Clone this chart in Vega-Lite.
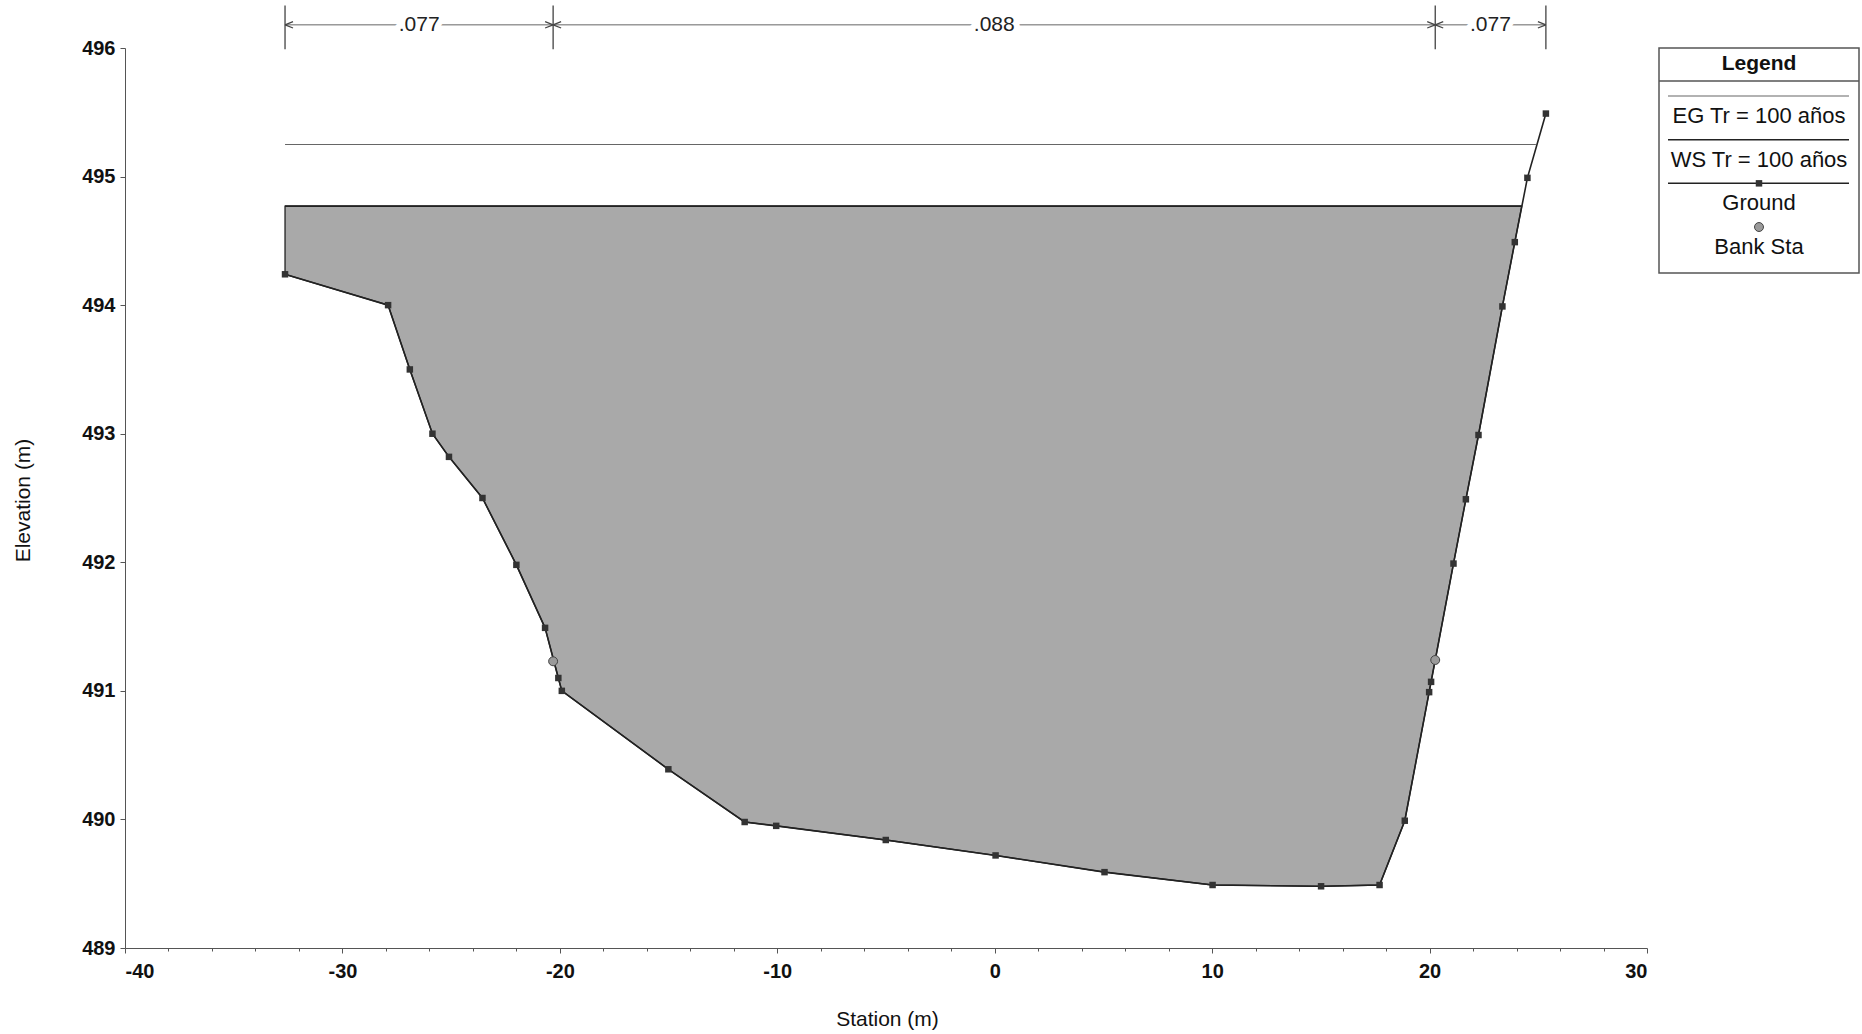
{
  "$schema": "https://vega.github.io/schema/vega-lite/v6.json",
  "background": "white",
  "padding": {"left": 12, "top": 4, "right": 5, "bottom": 5},
  "bounds": "flush",
  "spacing": 12,
  "config": {"view": {"stroke": null}, "font": "Liberation Sans", "axis": {"labelOverlap": false}},
  "datasets": {
    "ground": [
      {"station": -32.64, "elev": 494.24}, {"station": -27.9, "elev": 494.0}, {"station": -26.9, "elev": 493.5},
      {"station": -25.86, "elev": 493.0}, {"station": -25.1, "elev": 492.82}, {"station": -23.56, "elev": 492.5},
      {"station": -22.0, "elev": 491.98}, {"station": -20.68, "elev": 491.49}, {"station": -20.07, "elev": 491.1},
      {"station": -19.91, "elev": 491.0}, {"station": -15.01, "elev": 490.39}, {"station": -11.5, "elev": 489.98},
      {"station": -10.05, "elev": 489.95}, {"station": -5.01, "elev": 489.84}, {"station": 0.04, "elev": 489.72},
      {"station": 5.05, "elev": 489.59}, {"station": 10.02, "elev": 489.49}, {"station": 15.01, "elev": 489.48},
      {"station": 17.7, "elev": 489.49}, {"station": 18.86, "elev": 489.99}, {"station": 19.98, "elev": 490.99},
      {"station": 20.07, "elev": 491.07}, {"station": 21.1, "elev": 491.99}, {"station": 21.67, "elev": 492.49},
      {"station": 22.25, "elev": 492.99}, {"station": 23.35, "elev": 493.99}, {"station": 23.92, "elev": 494.49},
      {"station": 24.5, "elev": 494.99}, {"station": 25.35, "elev": 495.49}
    ],
    "water": [
      {"station": -32.64, "elev": 494.24}, {"station": -27.9, "elev": 494.0}, {"station": -26.9, "elev": 493.5},
      {"station": -25.86, "elev": 493.0}, {"station": -25.1, "elev": 492.82}, {"station": -23.56, "elev": 492.5},
      {"station": -22.0, "elev": 491.98}, {"station": -20.68, "elev": 491.49}, {"station": -20.07, "elev": 491.1},
      {"station": -19.91, "elev": 491.0}, {"station": -15.01, "elev": 490.39}, {"station": -11.5, "elev": 489.98},
      {"station": -10.05, "elev": 489.95}, {"station": -5.01, "elev": 489.84}, {"station": 0.04, "elev": 489.72},
      {"station": 5.05, "elev": 489.59}, {"station": 10.02, "elev": 489.49}, {"station": 15.01, "elev": 489.48},
      {"station": 17.7, "elev": 489.49}, {"station": 18.86, "elev": 489.99}, {"station": 19.98, "elev": 490.99},
      {"station": 20.07, "elev": 491.07}, {"station": 21.1, "elev": 491.99}, {"station": 21.67, "elev": 492.49},
      {"station": 22.25, "elev": 492.99}, {"station": 23.35, "elev": 493.99}, {"station": 23.92, "elev": 494.49},
      {"station": 24.24, "elev": 494.77}
    ],
    "bank": [{"station": -20.31, "elev": 491.23}, {"station": 20.26, "elev": 491.24}],
    "levels": [
      {"series": "EG Tr = 100 años", "from": -32.64, "to": 24.89, "elev": 495.25},
      {"series": "WS Tr = 100 años", "from": -32.64, "to": 24.24, "elev": 494.77}
    ],
    "nbands": [
      {"n": ".077", "from": -32.64, "to": -20.31, "mid": -26.47},
      {"n": ".088", "from": -20.31, "to": 20.26, "mid": -0.02},
      {"n": ".077", "from": 20.26, "to": 25.35, "mid": 22.8}
    ],
    "nbounds": [{"station": -32.64}, {"station": -20.31}, {"station": 20.26}, {"station": 25.35}],
    "narrows": [
      {"station": -32.64, "dir": "left"}, {"station": -20.31, "dir": "right"},
      {"station": -20.31, "dir": "left"}, {"station": 20.26, "dir": "right"},
      {"station": 20.26, "dir": "left"}, {"station": 25.35, "dir": "right"}
    ],
    "legend": [
      {"item": "EG Tr = 100 años", "order": 1, "kind": "eg"},
      {"item": "WS Tr = 100 años", "order": 2, "kind": "ws"},
      {"item": "Ground", "order": 3, "kind": "ground"},
      {"item": "Bank Sta", "order": 4, "kind": "bank"}
    ],
    "legendTitle": [{"title": "Legend"}]
  },
  "hconcat": [
    {
      "width": 1522,
      "height": 900,
      "layer": [
        {
          "data": {"name": "water"},
          "mark": {"type": "area", "fill": "#a9a9a9", "stroke": "#222", "strokeWidth": 1.3, "opacity": 1},
          "encoding": {
            "x": {
              "field": "station", "type": "quantitative",
              "scale": {"domain": [-40, 30], "nice": false, "zero": false},
              "axis": {
                "title": "Station (m)",
                "values": [-40,-38,-36,-34,-32,-30,-28,-26,-24,-22,-20,-18,-16,-14,-12,-10,-8,-6,-4,-2,0,2,4,6,8,10,12,14,16,18,20,22,24,26,28,30],
                "labelExpr": "datum.value % 10 === 0 ? '' + datum.value : ''",
                "tickSize": {"condition": {"test": "datum.value % 10 === 0", "value": 5}, "value": 3},
                "labelFontSize": 20,
                "grid": false,
                "labelOverlap": false,
                "labelFont": "Liberation Sans",
                "labelFontWeight": "bold",
                "labelColor": "#111",
                "labelPadding": 8,
                "domainColor": "#555",
                "tickColor": "#555",
                "titleFont": "Liberation Sans",
                "titleFontSize": 21,
                "titleFontWeight": "normal",
                "titleColor": "#111",
                "titleX": 762,
                "titleY": 71,
                "titleBaseline": "middle"
              }
            },
            "y": {
              "field": "elev", "type": "quantitative",
              "scale": {"domain": [489, 496], "nice": false, "zero": false},
              "axis": {
                "title": "Elevation (m)",
                "values": [489, 490, 491, 492, 493, 494, 495, 496],
                "format": ".0f",
                "tickSize": 5,
                "grid": false,
                "labelOverlap": false,
                "labelFont": "Liberation Sans",
                "labelFontSize": 20,
                "labelFontWeight": "bold",
                "labelColor": "#111",
                "labelPadding": 5,
                "domainColor": "#555",
                "tickColor": "#555",
                "titleFont": "Liberation Sans",
                "titleFontSize": 21,
                "titleFontWeight": "normal",
                "titleColor": "#111",
                "titleX": -102,
                "titleY": 452,
                "titleBaseline": "middle"
              }
            },
            "y2": {"datum": 494.77}
          }
        },
        {
          "data": {"name": "levels"},
          "mark": {"type": "rule"},
          "encoding": {
            "x": {"field": "from", "type": "quantitative"},
            "x2": {"field": "to"},
            "y": {"field": "elev", "type": "quantitative"},
            "color": {"condition": {"test": "datum.series === 'EG Tr = 100 años'", "value": "#666"}, "value": "#222"},
            "strokeWidth": {"condition": {"test": "datum.series === 'EG Tr = 100 años'", "value": 1.1}, "value": 1.6}
          }
        },
        {
          "data": {"name": "ground"},
          "mark": {"type": "line", "color": "#222", "strokeWidth": 1.6},
          "encoding": {
            "x": {"field": "station", "type": "quantitative"},
            "y": {"field": "elev", "type": "quantitative"}
          }
        },
        {
          "data": {"name": "ground"},
          "mark": {"type": "point", "shape": "square", "filled": true, "color": "#333", "size": 42, "opacity": 1},
          "encoding": {
            "x": {"field": "station", "type": "quantitative"},
            "y": {"field": "elev", "type": "quantitative"}
          }
        },
        {
          "data": {"name": "bank"},
          "mark": {"type": "point", "shape": "circle", "filled": true, "fill": "#9a9a9a", "stroke": "#444", "strokeWidth": 1, "size": 80, "opacity": 1},
          "encoding": {
            "x": {"field": "station", "type": "quantitative"},
            "y": {"field": "elev", "type": "quantitative"}
          }
        },
        {
          "data": {"name": "nbounds"},
          "mark": {"type": "rule", "color": "#333", "strokeWidth": 1.2},
          "encoding": {
            "x": {"field": "station", "type": "quantitative"},
            "y": {"datum": 495.99},
            "y2": {"datum": 496.33}
          }
        },
        {
          "data": {"name": "nbands"},
          "mark": {"type": "rule", "color": "#666", "strokeWidth": 1},
          "encoding": {
            "x": {"field": "from", "type": "quantitative"},
            "x2": {"field": "to"},
            "y": {"datum": 496.18}
          }
        },
        {
          "data": {"name": "narrows"},
          "mark": {"type": "point", "filled": false, "stroke": "#444", "strokeWidth": 1.2, "size": 64, "opacity": 1},
          "encoding": {
            "x": {"field": "station", "type": "quantitative"},
            "y": {"datum": 496.18},
            "shape": {
              "field": "dir", "type": "nominal",
              "scale": {"domain": ["left", "right"], "range": ["M0,0L2,-0.8M0,0L2,0.8", "M0,0L-2,-0.8M0,0L-2,0.8"]},
              "legend": null
            }
          }
        },
        {
          "data": {"name": "nbands"},
          "mark": {"type": "text", "font": "Liberation Sans", "fontSize": 21, "stroke": "white", "strokeWidth": 12, "strokeJoin": "round", "fill": "white"},
          "encoding": {
            "x": {"field": "mid", "type": "quantitative"},
            "y": {"datum": 496.18},
            "text": {"field": "n"}
          }
        },
        {
          "data": {"name": "nbands"},
          "mark": {"type": "text", "font": "Liberation Sans", "fontSize": 21, "fill": "#222"},
          "encoding": {
            "x": {"field": "mid", "type": "quantitative"},
            "y": {"datum": 496.18},
            "text": {"field": "n"}
          }
        }
      ]
    },
    {
      "width": 200,
      "height": 225,
      "view": {"stroke": "#555", "strokeWidth": 1.5},
      "layer": [
        {
          "data": {"name": "legendTitle"},
          "mark": {"type": "text", "font": "Liberation Sans", "fontSize": 21, "fontWeight": "bold", "fill": "#111"},
          "encoding": {
            "x": {"datum": 0, "type": "quantitative", "scale": {"domain": [-1, 1], "nice": false, "zero": false}, "axis": null},
            "y": {"datum": 0.267, "type": "quantitative", "scale": {"domain": [-0.099, 5.053], "reverse": true, "nice": false, "zero": false}, "axis": null},
            "text": {"field": "title"}
          }
        },
        {
          "data": {"name": "legendTitle"},
          "mark": {"type": "rule", "color": "#555", "strokeWidth": 1.3},
          "encoding": {
            "x": {"datum": -1, "type": "quantitative"},
            "x2": {"datum": 1},
            "y": {"datum": 0.657, "type": "quantitative"}
          }
        },
        {
          "data": {"name": "legend"},
          "transform": [{"filter": "datum.kind !== 'bank'"}],
          "mark": {"type": "rule"},
          "encoding": {
            "x": {"datum": -0.91, "type": "quantitative"},
            "x2": {"datum": 0.9},
            "y": {"field": "order", "type": "quantitative"},
            "color": {"condition": {"test": "datum.kind === 'eg'", "value": "#666"}, "value": "#222"},
            "strokeWidth": {"condition": {"test": "datum.kind === 'eg'", "value": 1.1}, "value": 1.5}
          }
        },
        {
          "data": {"name": "legend"},
          "transform": [{"filter": "datum.kind === 'ground'"}],
          "mark": {"type": "point", "shape": "square", "filled": true, "color": "#333", "size": 42, "opacity": 1},
          "encoding": {
            "x": {"datum": 0, "type": "quantitative"},
            "y": {"field": "order", "type": "quantitative"}
          }
        },
        {
          "data": {"name": "legend"},
          "transform": [{"filter": "datum.kind === 'bank'"}],
          "mark": {"type": "point", "shape": "circle", "filled": true, "fill": "#9a9a9a", "stroke": "#444", "strokeWidth": 1, "size": 80, "opacity": 1},
          "encoding": {
            "x": {"datum": 0, "type": "quantitative"},
            "y": {"field": "order", "type": "quantitative"}
          }
        },
        {
          "data": {"name": "legend"},
          "mark": {"type": "text", "font": "Liberation Sans", "fontSize": 22, "fill": "#111", "dy": 20},
          "encoding": {
            "x": {"datum": 0, "type": "quantitative"},
            "y": {"field": "order", "type": "quantitative"},
            "text": {"field": "item"}
          }
        }
      ]
    }
  ]
}
